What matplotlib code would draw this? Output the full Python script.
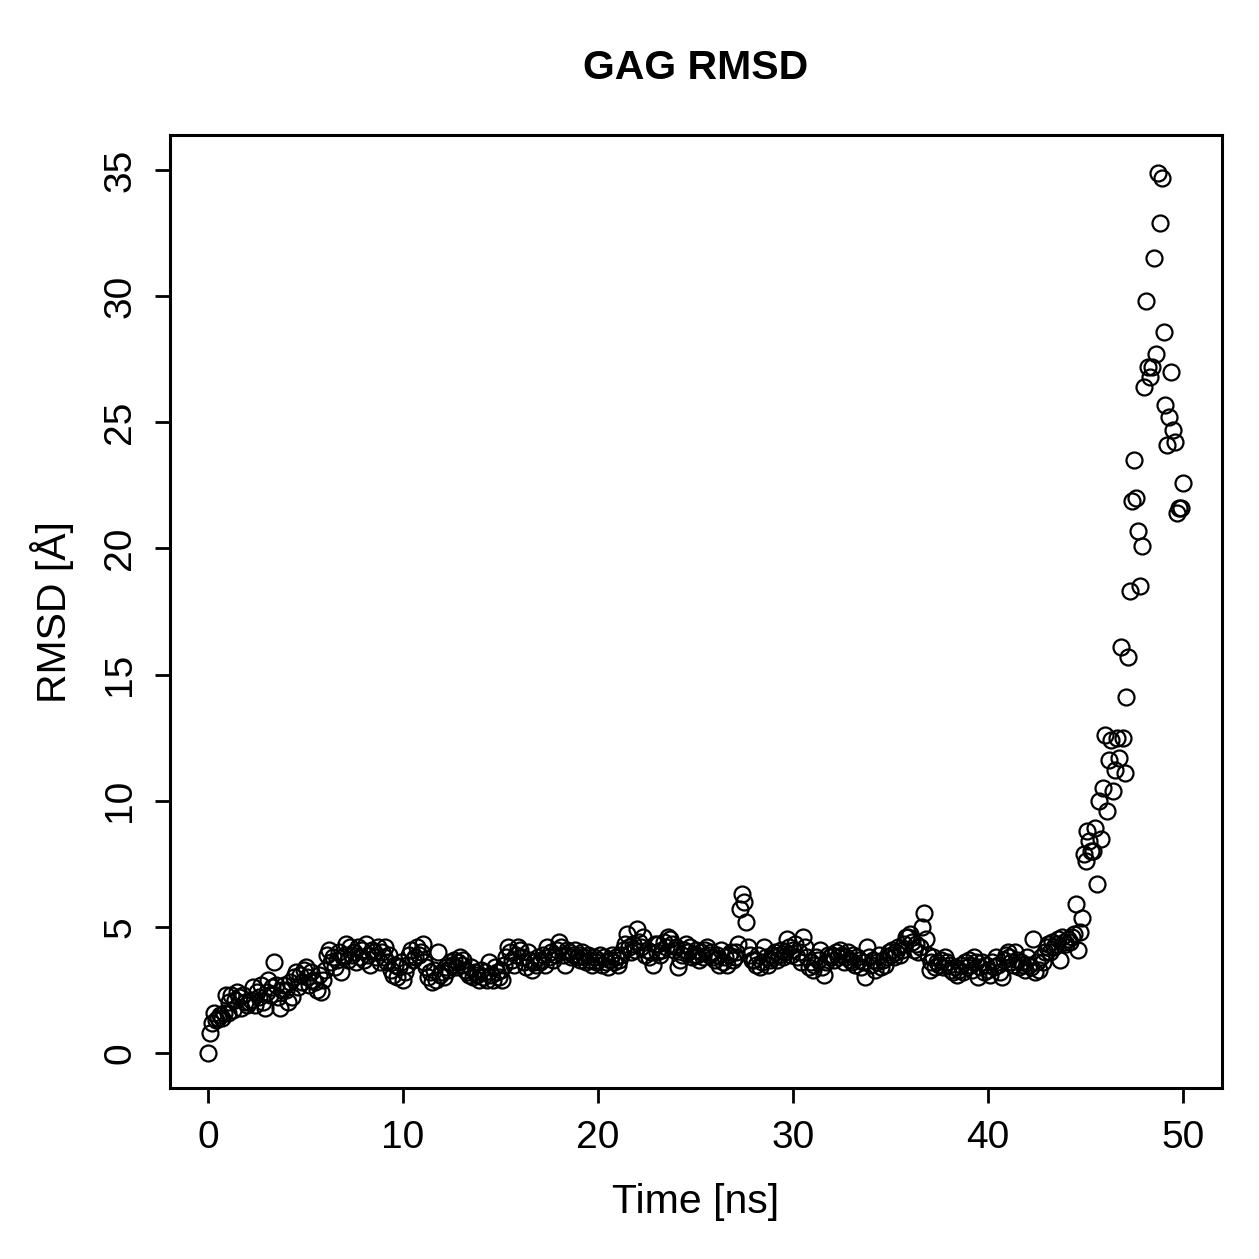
import numpy as np
import matplotlib
matplotlib.use("Agg")
import matplotlib.pyplot as plt

plt.rcParams['font.family'] = ['Liberation Sans', 'DejaVu Sans']

# RMSD values (Angstrom) sampled every 0.1 ns from 0 to 50 ns, one row per ns
rmsd_rows = [
    [0.0, 0.8, 1.2, 1.6, 1.3, 1.4, 1.5, 1.4, 1.6, 2.3],      # 0
    [1.6, 2.0, 2.3, 1.7, 2.1, 2.4, 2.2, 1.8, 2.3, 2.0],      # 1
    [1.9, 2.0, 2.1, 2.6, 1.9, 2.4, 2.2, 2.7, 2.0, 1.8],      # 2
    [2.4, 2.9, 2.3, 2.6, 3.6, 2.7, 2.2, 1.8, 2.5, 2.7],      # 3
    [2.5, 2.0, 2.8, 2.2, 3.0, 3.2, 2.6, 3.1, 2.8, 3.3],      # 4
    [3.4, 3.0, 2.7, 3.2, 2.9, 2.8, 2.5, 3.1, 2.4, 2.9],      # 5
    [3.3, 3.9, 4.1, 3.6, 3.8, 3.4, 3.7, 4.0, 3.2, 3.8],      # 6
    [3.9, 4.3, 3.7, 4.2, 3.9, 4.0, 3.6, 4.2, 3.8, 4.1],      # 7
    [3.7, 4.3, 3.9, 3.5, 4.1, 4.0, 3.8, 4.2, 3.6, 4.0],      # 8
    [3.8, 4.2, 3.6, 3.9, 3.3, 3.1, 3.5, 3.0, 3.4, 3.6],      # 9
    [2.9, 3.2, 3.5, 3.9, 4.1, 3.7, 3.8, 4.2, 3.9, 4.0],      # 10
    [4.3, 3.6, 3.4, 3.0, 3.2, 2.8, 3.3, 2.9, 4.0, 3.1],      # 11
    [3.2, 3.0, 3.4, 3.3, 3.6, 3.5, 3.7, 3.4, 3.6, 3.8],      # 12
    [3.5, 3.7, 3.3, 3.2, 3.1, 3.4, 3.0, 3.2, 3.1, 2.9],      # 13
    [3.3, 3.0, 3.2, 2.9, 3.6, 3.1, 2.9, 3.4, 3.2, 3.0],      # 14
    [3.3, 2.9, 3.5, 3.8, 4.2, 4.0, 3.7, 3.5, 3.9, 4.2],      # 15
    [4.1, 3.8, 3.6, 3.4, 4.0, 3.7, 3.3, 3.6, 3.5, 3.8],      # 16
    [3.6, 3.7, 3.9, 3.5, 4.2, 3.8, 4.0, 3.7, 3.9, 4.1],      # 17
    [4.4, 4.2, 3.9, 3.5, 4.1, 4.0, 3.8, 3.9, 4.1, 3.8],      # 18
    [3.9, 3.7, 4.0, 3.8, 3.6, 3.9, 3.7, 3.5, 3.8, 3.6],      # 19
    [3.7, 3.9, 3.5, 3.8, 3.6, 3.4, 3.7, 3.9, 3.6, 3.8],      # 20
    [3.5, 3.7, 3.9, 4.1, 4.3, 4.7, 4.2, 4.0, 4.3, 4.1],      # 21
    [4.9, 4.4, 4.2, 4.6, 3.9, 4.1, 3.8, 4.0, 3.5, 4.3],      # 22
    [4.0, 4.3, 3.9, 4.1, 4.4, 4.2, 4.6, 4.5, 4.3, 4.1],      # 23
    [4.2, 3.4, 3.7, 3.9, 4.1, 4.3, 4.0, 4.2, 3.8, 3.9],      # 24
    [4.1, 3.9, 3.7, 4.0, 3.8, 4.1, 4.2, 3.9, 4.0, 3.8],      # 25
    [3.7, 3.9, 3.5, 4.1, 3.6, 3.8, 3.5, 3.9, 4.0, 3.7],      # 26
    [3.8, 4.0, 4.3, 5.7, 6.3, 6.0, 5.2, 4.2, 3.9, 3.7],      # 27
    [3.7, 3.5, 3.9, 3.4, 3.6, 4.2, 3.8, 3.5, 3.7, 3.9],      # 28
    [3.8, 4.0, 3.7, 3.9, 4.1, 3.8, 4.0, 4.5, 4.2, 3.9],      # 29
    [4.1, 4.3, 3.8, 4.0, 3.6, 4.6, 4.2, 3.8, 3.4, 3.6],      # 30
    [3.3, 3.5, 3.8, 3.7, 4.1, 3.4, 3.1, 3.6, 3.9, 3.8],      # 31
    [3.9, 3.7, 4.0, 3.8, 4.1, 3.9, 3.6, 3.8, 4.0, 3.7],      # 32
    [3.6, 3.9, 3.5, 3.8, 3.7, 3.4, 3.6, 3.0, 4.2, 3.8],      # 33
    [3.5, 3.7, 3.3, 3.6, 3.9, 3.4, 3.7, 3.5, 3.8, 4.0],      # 34
    [3.9, 4.1, 3.8, 4.0, 4.2, 3.9, 4.1, 4.3, 4.6, 4.6],      # 35
    [4.7, 4.4, 4.1, 4.3, 4.0, 4.2, 5.0, 5.55, 4.5, 3.9],     # 36
    [3.3, 3.6, 3.8, 3.4, 3.6, 3.5, 3.7, 3.4, 3.8, 3.6],      # 37
    [3.5, 3.3, 3.2, 3.4, 3.1, 3.3, 3.5, 3.2, 3.6, 3.4],      # 38
    [3.7, 3.5, 3.3, 3.8, 3.6, 3.0, 3.4, 3.6, 3.2, 3.5],      # 39
    [3.3, 3.1, 3.6, 3.4, 3.8, 3.5, 3.2, 3.0, 3.7, 3.9],      # 40
    [4.0, 3.8, 3.6, 3.5, 4.0, 3.7, 3.4, 3.6, 3.5, 3.3],      # 41
    [3.8, 3.5, 3.4, 4.5, 3.2, 3.6, 3.3, 3.8, 3.6, 4.0],      # 42
    [4.2, 4.3, 4.0, 4.4, 4.2, 4.3, 4.5, 3.7, 4.6, 4.4],      # 43
    [4.3, 4.5, 4.4, 4.6, 4.7, 5.9, 4.1, 4.8, 5.35, 7.9],     # 44
    [7.6, 8.8, 8.4, 8.0, 8.0, 8.9, 6.7, 10.0, 8.5, 10.5],    # 45
    [12.6, 9.6, 11.6, 12.4, 10.4, 11.2, 12.5, 11.7, 16.1, 12.5],  # 46
    [11.1, 14.1, 15.7, 18.3, 21.9, 23.5, 22.0, 20.7, 18.5, 20.1], # 47
    [26.4, 29.8, 27.2, 26.8, 27.2, 31.5, 27.7, 34.9, 32.9, 34.7], # 48
    [28.6, 25.7, 24.1, 25.2, 27.0, 24.7, 24.2, 21.4, 21.6, 21.6], # 49
    [22.6],                                                  # 50
]

rmsd = np.array([v for row in rmsd_rows for v in row])
time_ns = np.round(np.arange(len(rmsd)) * 0.1, 1)

x_ticks = [0, 10, 20, 30, 40, 50]
y_ticks = [0, 5, 10, 15, 20, 25, 30, 35]

fig = plt.figure(figsize=(12.59, 12.59), dpi=100)
ax = fig.add_axes([170/1259, 1 - 1088/1259, (1222-170)/1259, (1088-135)/1259])

ax.plot(time_ns, rmsd, linestyle='none', marker='o', markersize=11.5,
        markerfacecolor='none', markeredgecolor='black', markeredgewidth=1.6)

ax.set_xlim(-1.95, 52.0)
ax.set_ylim(-1.39, 36.39)
ax.set_xticks(x_ticks)
ax.set_yticks(y_ticks)
ax.set_xticklabels([str(t) for t in x_ticks])
ax.set_yticklabels([str(t) for t in y_ticks], rotation=90, va='center')

for s in ax.spines.values():
    s.set_linewidth(2.2)
ax.tick_params(axis='both', direction='out', length=11, width=2.0,
               labelsize=28, pad=12)

fig.text(0.5 * (170 + 1222) / 1259, 1 - 1202/1259, 'Time [ns]', ha='center', va='center', fontsize=29.5)
fig.text(52/1259, 1 - 612/1259, 'RMSD [Å]', ha='center', va='center', rotation=90, fontsize=29.5)
fig.text(0.5 * (170 + 1222) / 1259, 1 - 68/1259, 'GAG RMSD', ha='center', va='center',
         fontsize=29.5, fontweight='bold')

fig.savefig('out.png', dpi=100, facecolor='white')
